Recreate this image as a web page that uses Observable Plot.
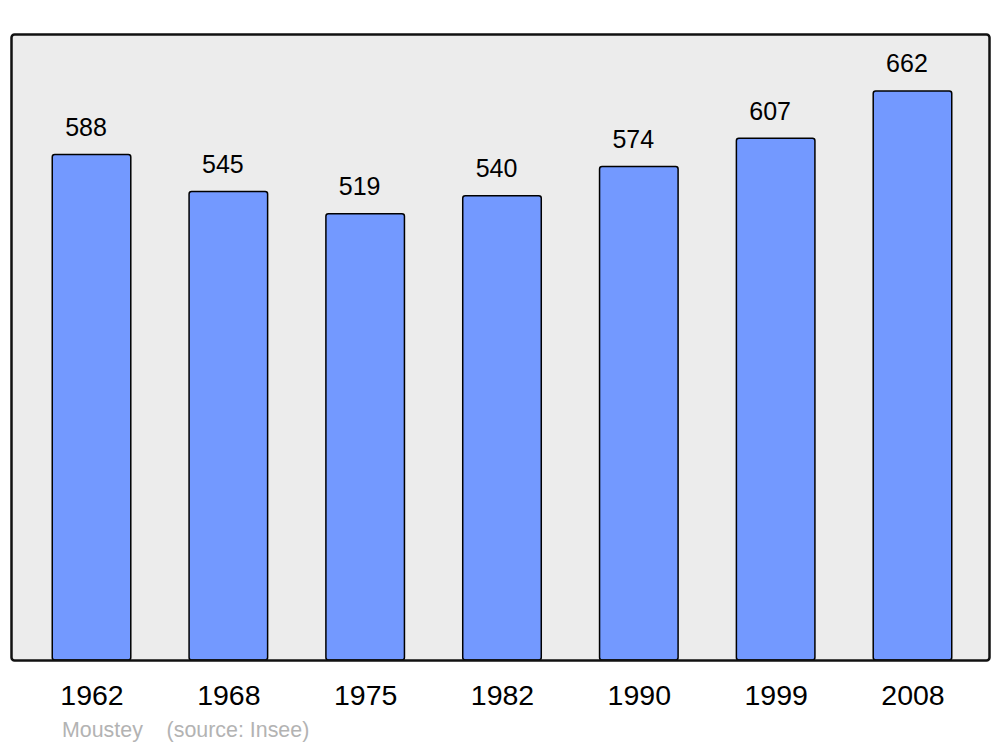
<!DOCTYPE html>
<html>
<head>
<meta charset="utf-8">
<script src="https://cdn.jsdelivr.net/npm/d3@7"></script>
<script src="https://cdn.jsdelivr.net/npm/@observablehq/plot@0.6"></script>
<style>
  html, body { margin: 0; padding: 0; background: #fff; }
  body { width: 1000px; height: 747px; overflow: hidden; font-family: "Liberation Sans", Arial, sans-serif; }
  #caption { position: absolute; left: 62px; top: 718px; font-size: 21.4px; line-height: 24px; color: #b3b3b3; white-space: pre; font-family: "Liberation Sans", Arial, sans-serif; }
</style>
</head>
<body>
<div id="chart"></div>
<div id="caption">Moustey    (source: Insee)</div>
<script>
const years = ["1962", "1968", "1975", "1982", "1990", "1999", "2008"];
const population = [588, 545, 519, 540, 574, 607, 662];

const data = years.map((y, i) => ({year: y, value: population[i]}));

const chart = Plot.plot({
  width: 1000,
  height: 715,
  marginLeft: 11,
  marginRight: 11,
  marginTop: 34,
  marginBottom: 55,
  style: {fontFamily: "'Liberation Sans', Arial, sans-serif", background: "transparent"},
  x: {domain: years, range: [52.25, 951.75], paddingInner: 0.426, paddingOuter: 0, round: false, label: null},
  y: {domain: [0, d3.max(population) * 1.1], axis: null},
  marks: [
    Plot.frame({fill: "#ececec", stroke: "none", rx: 3}),
    Plot.barY(data, {x: "year", y: "value", fill: "#7399ff", stroke: "#000", strokeWidth: 1.5, rx: 2.5}),
    Plot.text(data, {x: "year", y: "value", text: d => String(d.value), dx: -6, dy: -27, fontSize: 25, fill: "#000"}),
    Plot.frame({stroke: "#111", strokeWidth: 2.5, rx: 3}),
    Plot.axisX({tickSize: 0, tickPadding: 24, fontSize: 28.5, label: null, color: "#000"})
  ]
});
document.getElementById("chart").appendChild(chart);
</script>
</body>
</html>
